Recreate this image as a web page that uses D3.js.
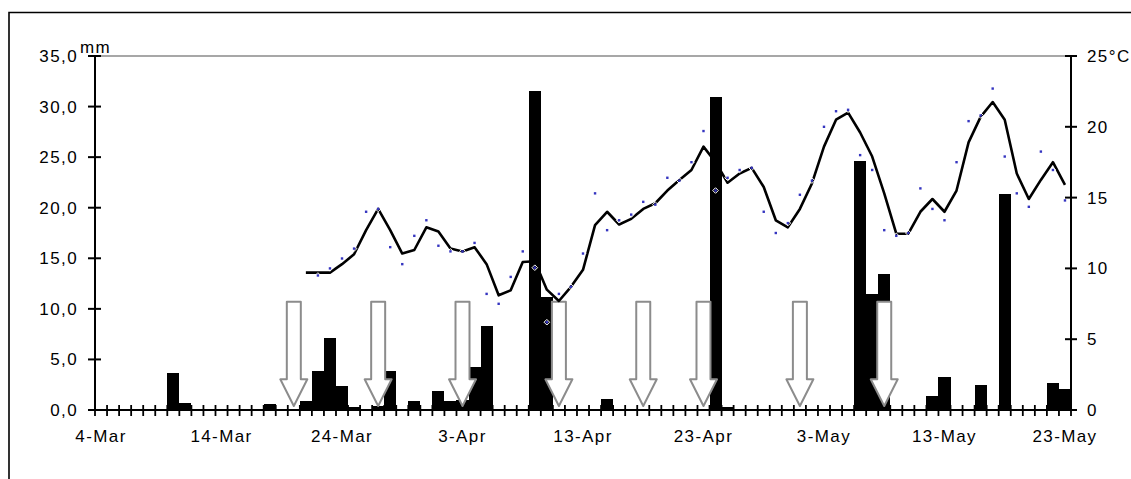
<!DOCTYPE html>
<html>
<head>
<meta charset="utf-8">
<script src="https://cdn.jsdelivr.net/npm/d3@7"></script>
<style>
  html, body { margin: 0; padding: 0; background: #fff; }
  svg { display: block; }
  text { font-family: "Liberation Sans", Arial, sans-serif; font-size: 17px; fill: #000; letter-spacing: 1.4px; }
</style>
</head>
<body>
<svg id="chart" width="1131" height="479"></svg>
<script>
// Daily series, 4 March – 23 May (81 days)
const firstDay = new Date(2003, 2, 4);
const lastDay = new Date(2003, 4, 24);
const days = d3.timeDay.range(firstDay, lastDay);

// Precipitation, mm per day
const rain = [
  0, 0, 0, 0, 0, 0, 3.7, 0.7, 0, 0,
  0, 0, 0, 0, 0.6, 0, 0, 0.9, 3.9, 7.1,
  2.4, 0.3, 0, 0.35, 3.9, 0, 0.9, 0, 1.9, 0.9,
  1.0, 4.3, 8.3, 0, 0, 0, 31.5, 11.2, 0, 0,
  0, 0, 1.1, 0, 0, 0, 0, 0, 0, 0,
  0, 30.9, 0.25, 0, 0, 0, 0, 0, 0, 0,
  0, 0, 0, 24.6, 11.5, 13.4, 0, 0, 0, 1.4,
  3.3, 0, 0, 2.5, 0, 21.4, 0, 0, 0, 2.7,
  2.1
];

// Smoothed air temperature, °C
const tempSmooth = [
  null, null, null, null, null, null, null, null, null, null,
  null, null, null, null, null, null, null, 9.7, 9.7, 9.7,
  10.3, 11.0, 12.7, 14.2, 12.7, 11.05, 11.3, 12.9, 12.6, 11.4,
  11.2, 11.5, 10.3, 8.1, 8.45, 10.45, 10.5, 8.5, 7.7, 8.7,
  9.9, 13.05, 14.0, 13.1, 13.5, 14.2, 14.6, 15.5, 16.25, 16.95,
  18.6, 17.5, 16.05, 16.7, 17.1, 15.75, 13.4, 12.9, 14.2, 16.0,
  18.6, 20.5, 21.0, 19.6, 17.9, 15.3, 12.45, 12.45, 14.0, 14.9,
  14.0, 15.5, 18.9, 20.7, 21.75, 20.5, 16.7, 14.9, 16.25, 17.5,
  15.9
];

// Daily mean air temperature, °C
const tempDaily = [
  null, null, null, null, null, null, null, null, null, null,
  null, null, null, null, null, null, null, null, 9.5, 10.0,
  10.7, 11.4, 14.0, 14.2, 11.5, 10.3, 12.3, 13.4, 11.6, 11.2,
  11.2, 11.8, 8.2, 7.5, 9.4, 11.2, 10.05, 6.2, 8.2, 8.7,
  11.05, 15.3, 12.7, 13.4, 13.8, 14.7, 14.5, 16.4, 16.2, 17.5,
  19.7, 15.5, 16.4, 16.95, 17.1, 14.0, 12.5, 13.2, 15.2, 16.2,
  20.0, 21.1, 21.2, 18.0, 16.95, 12.7, 12.3, 12.5, 15.65, 14.2,
  13.4, 17.5, 20.4, 20.8, 22.7, 17.9, 15.3, 14.35, 18.25, 16.95,
  14.8
];

// Days marked with an arrow (treatment dates)
const arrowDates = ["20-Mar", "27-Mar", "3-Apr", "11-Apr", "18-Apr", "23-Apr", "1-May", "8-May"];

// Axis labels
const xTickLabels = ["4-Mar", "14-Mar", "24-Mar", "3-Apr", "13-Apr", "23-Apr", "3-May", "13-May", "23-May"];
const rainTicks = [0, 5, 10, 15, 20, 25, 30, 35];
const tempTicks = [0, 5, 10, 15, 20, 25];

const fmtDay = d3.timeFormat("%-d-%b");
const dayLabels = days.map(fmtDay);

const svg = d3.select("#chart");

const plot = { left: 95, right: 1071, top: 56, bottom: 410 };

const x = d3.scaleBand().domain(dayLabels).range([plot.left, plot.right]).padding(0);
const yRain = d3.scaleLinear().domain([0, 35]).range([plot.bottom, plot.top]);
const yTemp = d3.scaleLinear().domain([0, 25]).range([plot.bottom, plot.top]);
const bw = x.bandwidth();
const cx = d => x(d) + bw / 2;

// Outer frame
svg.append("path")
  .attr("d", "M9,479V12.5H1131")
  .attr("fill", "none").attr("stroke", "#000").attr("stroke-width", 1.6);

// Top border of the plot area
svg.append("line")
  .attr("x1", plot.left).attr("x2", plot.right)
  .attr("y1", plot.top).attr("y2", plot.top)
  .attr("stroke", "#8a8a8a").attr("stroke-width", 1.5);

// Precipitation bars
svg.append("g")
  .selectAll("rect")
  .data(rain.map((v, i) => ({ day: dayLabels[i], v })).filter(d => d.v > 0))
  .join("rect")
  .attr("x", d => x(d.day))
  .attr("width", bw)
  .attr("y", d => yRain(d.v))
  .attr("height", d => yRain(0) - yRain(d.v))
  .attr("fill", "#000")
  .attr("shape-rendering", "crispEdges");

// Treatment arrows
const shaftHalf = 7, headHalf = 13.5;
const arrowTop = 301.7, headStart = 379.3, arrowTip = 406;
svg.append("g")
  .selectAll("path")
  .data(arrowDates)
  .join("path")
  .attr("d", d => {
    const c = cx(d);
    return `M${c - shaftHalf},${arrowTop}H${c + shaftHalf}V${headStart}H${c + headHalf}` +
           `L${c},${arrowTip}L${c - headHalf},${headStart}H${c - shaftHalf}Z`;
  })
  .attr("fill", "#fff")
  .attr("stroke", "#8c8c8c")
  .attr("stroke-width", 2)
  .attr("stroke-linejoin", "round");

// Smoothed temperature line
const line = d3.line()
  .defined(d => d.v != null)
  .x(d => cx(d.day))
  .y(d => yTemp(d.v));
svg.append("path")
  .datum(tempSmooth.map((v, i) => ({ day: dayLabels[i], v })))
  .attr("d", line)
  .attr("fill", "none")
  .attr("stroke", "#000")
  .attr("stroke-width", 2.6)
  .attr("stroke-linejoin", "round");

// Daily temperature markers
const dots = svg.append("g")
  .selectAll("g")
  .data(tempDaily.map((v, i) => ({ day: dayLabels[i], v })).filter(d => d.v != null))
  .join("g")
  .attr("transform", d => `translate(${cx(d.day)},${yTemp(d.v)})`);
dots.append("path")
  .attr("d", "M0,-2.8L2.8,0L0,2.8L-2.8,0Z")
  .attr("fill", "none").attr("stroke", "#fff").attr("stroke-width", 1);
dots.append("rect")
  .attr("x", -1.2).attr("y", -1.2).attr("width", 2.4).attr("height", 2.4)
  .attr("fill", "#3535c0");

// Left axis (mm)
const gL = svg.append("g");
gL.append("line")
  .attr("x1", plot.left).attr("x2", plot.left)
  .attr("y1", plot.top).attr("y2", plot.bottom)
  .attr("stroke", "#000").attr("stroke-width", 2);
gL.selectAll("line.t").data(rainTicks).join("line").attr("class", "t")
  .attr("x1", plot.left - 7).attr("x2", plot.left + 6)
  .attr("y1", d => yRain(d)).attr("y2", d => yRain(d))
  .attr("stroke", "#000").attr("stroke-width", 2);
gL.selectAll("text").data(rainTicks).join("text")
  .attr("x", 78).attr("y", d => yRain(d) + 6)
  .attr("text-anchor", "end")
  .text(d => d3.format(".1f")(d).replace(".", ","));
svg.append("text").attr("x", 80).attr("y", 53).text("mm");

// Right axis (°C)
const gR = svg.append("g");
gR.append("line")
  .attr("x1", plot.right).attr("x2", plot.right)
  .attr("y1", plot.top).attr("y2", plot.bottom)
  .attr("stroke", "#000").attr("stroke-width", 2);
gR.selectAll("line.t").data(tempTicks).join("line").attr("class", "t")
  .attr("x1", plot.right - 6).attr("x2", plot.right + 6)
  .attr("y1", d => yTemp(d)).attr("y2", d => yTemp(d))
  .attr("stroke", "#000").attr("stroke-width", 2);
gR.selectAll("text").data(tempTicks).join("text")
  .attr("x", 1087).attr("y", d => yTemp(d) + 6)
  .text(d => d === 25 ? d + "°C" : d);

// Category axis
const gX = svg.append("g");
gX.append("line")
  .attr("x1", plot.left).attr("x2", plot.right)
  .attr("y1", plot.bottom).attr("y2", plot.bottom)
  .attr("stroke", "#000").attr("stroke-width", 2);
gX.selectAll("line.t").data(d3.range(dayLabels.length + 1)).join("line").attr("class", "t")
  .attr("x1", k => plot.left + k * bw).attr("x2", k => plot.left + k * bw)
  .attr("y1", plot.bottom - 5).attr("y2", plot.bottom + 6)
  .attr("stroke", "#000").attr("stroke-width", 1.8);
gX.selectAll("text").data(xTickLabels).join("text")
  .attr("x", d => cx(d)).attr("y", 442)
  .attr("text-anchor", "middle")
  .text(d => d);
</script>
</body>
</html>
